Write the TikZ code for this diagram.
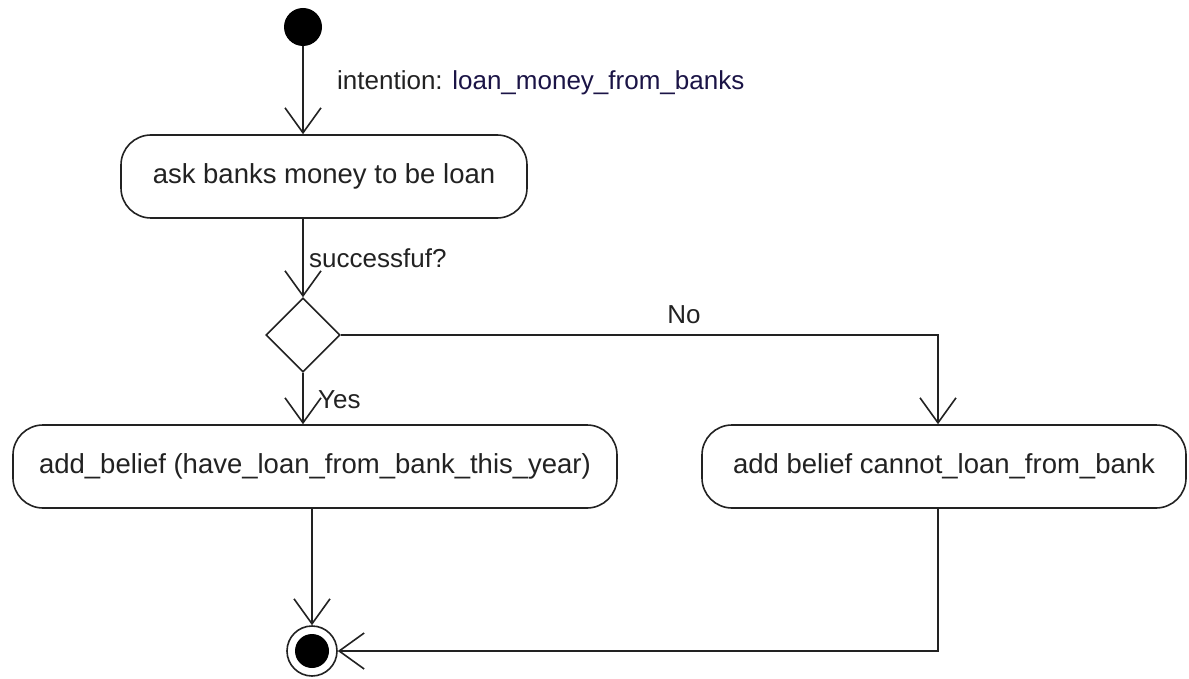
\documentclass[tikz,border=0pt]{standalone}
\usepackage{fontspec}
\setmainfont{Liberation Sans}
\usetikzlibrary{arrows.meta,shapes.geometric}
\definecolor{ink}{HTML}{222222}
\definecolor{navy}{HTML}{1B1446}
\tikzset{
  act/.style={draw=ink, line width=1.6pt, rectangle, rounded corners=30pt, minimum height=83pt, inner sep=0pt, text=ink, font=\fontsize{27.5}{32}\selectfont},
  lbl/.style={text=ink, inner sep=0pt, font=\fontsize{26}{30}\selectfont},
  arr/.style={draw=ink, line width=1.6pt, -{Straight Barb[length=25pt,width=36pt,line width=1.6pt]}},
  conn/.style={draw=ink, line width=1.6pt}
}
\begin{document}
\begin{tikzpicture}[x=1pt,y=-1pt]
\useasboundingbox[fill=white] (0,0) rectangle (1189,679);
\node[circle, fill=black, minimum size=38pt, inner sep=0pt] (start) at (303,27) {};
\node[act, minimum width=406pt] (ask) at (324,176.5) {\raisebox{2pt}{ask banks money to be loan}};
\node[diamond, draw=ink, line width=1.6pt, aspect=1, minimum size=74pt, inner sep=0pt] (dec) at (303,335) {};
\node[act, minimum width=604pt] (yes) at (315,466.5) {\raisebox{3pt}{add\_belief (have\_loan\_from\_bank\_this\_year)}};
\node[act, minimum width=484pt] (no) at (944,466.5) {\raisebox{3pt}{add belief cannot\_loan\_from\_bank}};
\node[circle, draw=ink, line width=1.6pt, minimum size=50pt, inner sep=0pt] (end) at (312,651) {};
\node[circle, fill=black, minimum size=34pt, inner sep=0pt] (endin) at (end) {};
\coordinate (nx) at (938,0);
\node[lbl, anchor=west] (l1) at (337,83) {intention: \textcolor{navy}{loan\_money\_from\_banks}};
\node[lbl, anchor=west] (l2) at (309,258) {successfuf?};
\node[lbl, anchor=west] (l3) at (318,400) {Yes};
\node[lbl] (l4) at (684,315) {No};
\draw[arr] (start.south) -- (start.south |- ask.north);
\draw[arr] (dec.north |- ask.south) -- (dec.north);
\draw[arr] (dec.south) -- (dec.south |- yes.north);
\draw[arr] (dec.east) -| (nx |- no.north);
\draw[arr] (end.north |- yes.south) -- (end.north);
\draw[arr] (nx |- no.south) |- (end.east);
\end{tikzpicture}
\end{document}
